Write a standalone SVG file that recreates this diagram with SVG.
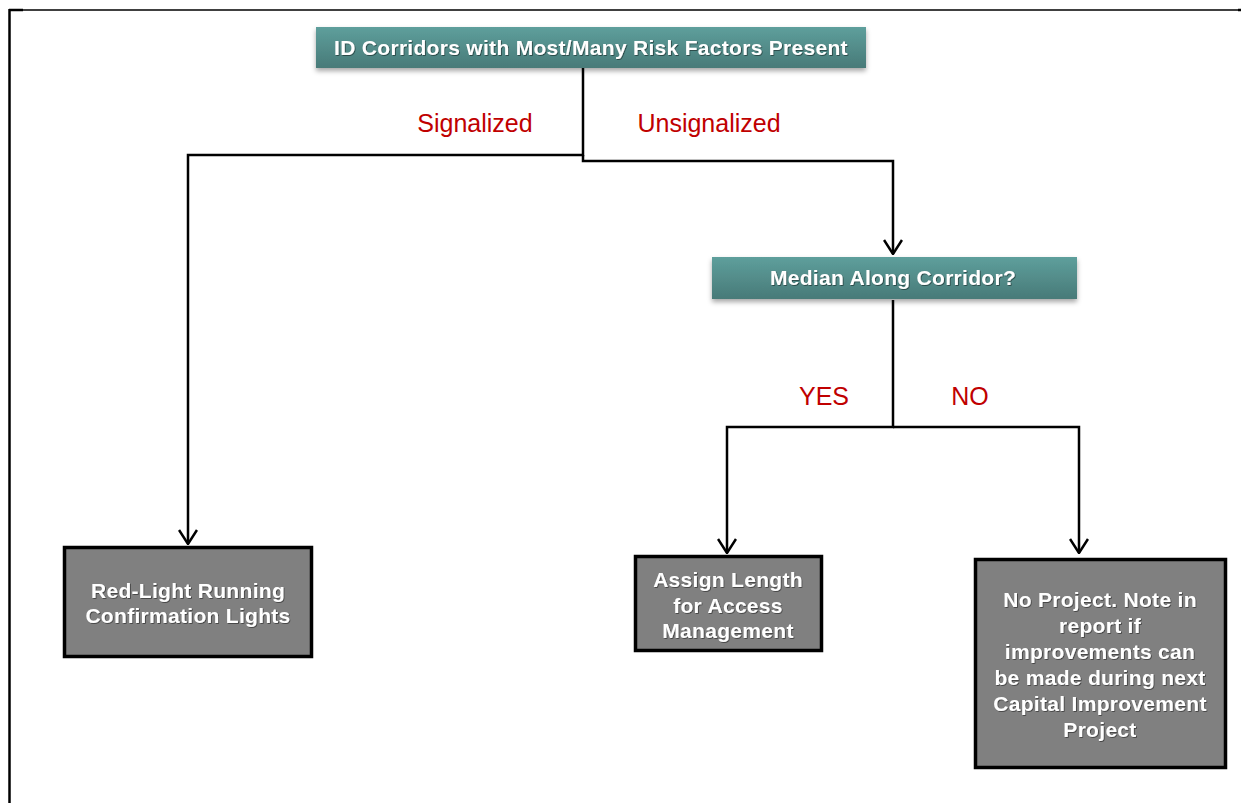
<svg xmlns="http://www.w3.org/2000/svg" width="1241" height="803" viewBox="0 0 1241 803">
<defs>
<linearGradient id="teal" x1="0" y1="0" x2="0" y2="1">
<stop offset="0" stop-color="#5e9f9c"/>
<stop offset="1" stop-color="#487a78"/>
</linearGradient>
<filter id="boxShadow" x="-10%" y="-30%" width="120%" height="180%">
<feDropShadow dx="0" dy="3" stdDeviation="2.5" flood-color="#000" flood-opacity="0.35"/>
</filter>
<filter id="txtShadow" x="-5%" y="-20%" width="110%" height="150%">
<feDropShadow dx="0.8" dy="0.8" stdDeviation="0.4" flood-color="#000" flood-opacity="0.55"/>
</filter>
<marker id="arrow" viewBox="0 0 16 20" refX="15" refY="10" markerWidth="16" markerHeight="20" markerUnits="userSpaceOnUse" orient="auto">
<path d="M1,1 L15,10 L1,19" fill="none" stroke="#000" stroke-width="2.5"/>
</marker>
</defs>
<style>
.frame{stroke:#000;fill:none}
.conn{fill:none;stroke:#000;stroke-width:2.5}
.teal{fill:url(#teal);filter:url(#boxShadow)}
.gray{fill:#808080;stroke:#000;stroke-width:3.5}
.wt{font-family:"Liberation Sans",Arial,sans-serif;font-weight:bold;font-size:21px;letter-spacing:0.3px;fill:#ffffff;text-anchor:middle;filter:url(#txtShadow)}
.lbl{font-family:"Liberation Sans",Arial,sans-serif;font-size:25px;fill:#c00000;text-anchor:middle}
</style>
<rect x="0" y="0" width="1241" height="803" fill="#ffffff"/>
<g id="frame">
<line class="frame" x1="9" y1="10" x2="1241" y2="10" stroke-width="1.5"/>
<line class="frame" x1="9.5" y1="9" x2="9.5" y2="803" stroke-width="2.5"/>
<line class="frame" x1="9" y1="10" x2="23" y2="10" stroke-width="2.5"/>
<line class="frame" x1="1238" y1="10" x2="1241" y2="10" stroke-width="2.5"/>
</g>
<g id="connectors">
<path class="conn" d="M583,68 V155 H188 V544" marker-end="url(#arrow)"/>
<path class="conn" d="M583,155 V161 H893 V254" marker-end="url(#arrow)"/>
<path class="conn" d="M893,300 V427 H727 V553" marker-end="url(#arrow)"/>
<path class="conn" d="M893,427 H1079 V553" marker-end="url(#arrow)"/>
<text class="lbl" x="475" y="132">Signalized</text>
<text class="lbl" x="709" y="132">Unsignalized</text>
<text class="lbl" x="824" y="405">YES</text>
<text class="lbl" x="970" y="405">NO</text>
</g>
<g id="node-start">
<rect class="teal" x="316" y="27" width="550" height="41"/>
<text class="wt" x="591" y="55">ID Corridors with Most/Many Risk Factors Present</text>
</g>
<g id="node-median">
<rect class="teal" x="712" y="257" width="365" height="42"/>
<text class="wt" x="893" y="285">Median Along Corridor?</text>
</g>
<g id="node-redlight">
<rect class="gray" x="64.5" y="547.5" width="247" height="109"/>
<text class="wt" x="188" y="598">Red-Light Running</text>
<text class="wt" x="188" y="623">Confirmation Lights</text>
</g>
<g id="node-assign">
<rect class="gray" x="635.5" y="556.5" width="186" height="94"/>
<text class="wt" x="728" y="587">Assign Length</text>
<text class="wt" x="728" y="613">for Access</text>
<text class="wt" x="728" y="638">Management</text>
</g>
<g id="node-noproject">
<rect class="gray" x="975.5" y="559.5" width="250" height="208"/>
<text class="wt" x="1100" y="607">No Project. Note in</text>
<text class="wt" x="1100" y="633">report if</text>
<text class="wt" x="1100" y="659">improvements can</text>
<text class="wt" x="1100" y="685">be made during next</text>
<text class="wt" x="1100" y="711">Capital Improvement</text>
<text class="wt" x="1100" y="737">Project</text>
</g>
</svg>
